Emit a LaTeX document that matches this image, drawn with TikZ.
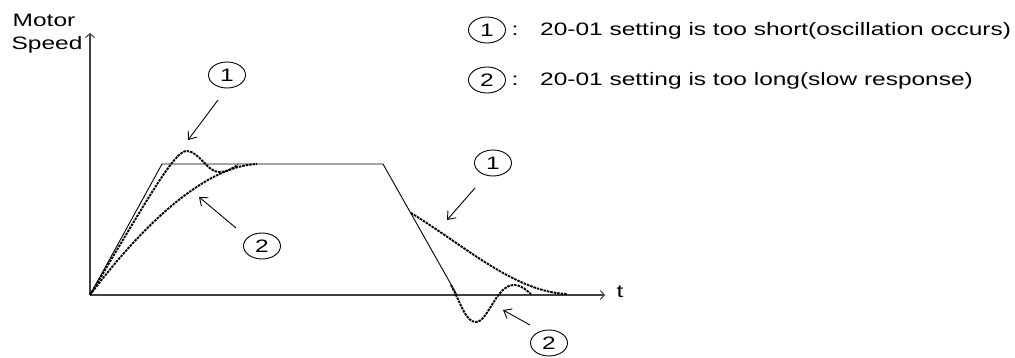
\documentclass[tikz,border=0pt]{standalone}
\usepackage{fontspec}
\setmainfont{Liberation Sans}
\usetikzlibrary{arrows.meta,shapes.geometric}
\newcommand{\xw}[1]{\scalebox{1.36}[1]{#1}}
\begin{document}
\begin{tikzpicture}[x=1pt,y=-1pt,
  lbl/.style={inner sep=0pt, font=\fontsize{18}{21}\selectfont},
  num/.style={ellipse, draw, line width=0.9pt, minimum width=37pt, minimum height=26pt, inner sep=0pt, font=\fontsize{18}{21}\selectfont},
  axis/.style={draw=black!75, line width=1.4pt, -{Straight Barb[length=4pt,width=9pt,line width=1pt]}},
  ramp/.style={line width=0.9pt},
  resp/.style={line width=1.9pt, dash pattern=on 2.5pt off 1pt},
  ptr/.style={line width=0.9pt, -{Straight Barb[length=7pt,width=11pt]}}]
\useasboundingbox (0,0) rectangle (1015,358);
% axes
\coordinate (O) at (90,295);
\coordinate (Ytop) at (90,33);
\coordinate (Xend) at (605,295);
\draw[axis] (O) -- (Ytop);
\draw[axis] (O) -- (Xend);
\node[lbl, anchor=base] (motor) at (44,27) {\xw{Motor}};
\node[lbl, anchor=base] (speed) at (47,50) {\xw{Speed}};
\node[lbl, anchor=base] (tlab) at (620,298) {\xw{t}};
% reference profile
\coordinate (P1) at (162,164);
\coordinate (P2) at (383,164);
\coordinate (P3) at (457,295);
\draw[ramp] (O) -- (P1) -- (P2) -- (P3);
% responses
\draw[resp] (O) .. controls (150,195) and (175,150) .. (187,151) .. controls (200,152) and (207,172) .. (219,172) .. controls (228,172) and (232,168) .. (238,165);
\draw[resp] (O) .. controls (150,215) and (210,166) .. (257,164);
\draw[resp] (411,213) .. controls (465,246) and (515,292) .. (567,294);
\draw[resp] (451,285) .. controls (462,306) and (466,322) .. (476,322) .. controls (488,322) and (496,285) .. (514,285) .. controls (522,285) and (527,291) .. (531,294);
% labels with pointers
\node[num] (c1) at (227,75) {\xw{1}};
\node[num] (c2) at (262,246) {\xw{2}};
\node[num] (c3) at (493,163) {\xw{1}};
\node[num] (c4) at (549,343) {\xw{2}};
\coordinate (a1s) at (218,100); \coordinate (a1e) at (188,140);
\coordinate (a2s) at (236,228); \coordinate (a2e) at (199,197);
\coordinate (a3s) at (475,188); \coordinate (a3e) at (447,220);
\coordinate (a4s) at (530,325); \coordinate (a4e) at (503,310);
\draw[ptr] (a1s) -- (a1e);
\draw[ptr] (a2s) -- (a2e);
\draw[ptr] (a3s) -- (a3e);
\draw[ptr] (a4s) -- (a4e);
% legend
\node[num] (l1) at (487,30) {\xw{1}};
\node[num] (l2) at (487,80) {\xw{2}};
\node[lbl, anchor=base] (k1) at (515,36) {\xw{:}};
\node[lbl, anchor=base] (k2) at (515,86) {\xw{:}};
\node[lbl, anchor=base west] (t1) at (540,36) {\xw{20-01 setting is too short(oscillation occurs)}};
\node[lbl, anchor=base west] (t2) at (540,86) {\xw{20-01 setting is too long(slow response)}};
\end{tikzpicture}
\end{document}
